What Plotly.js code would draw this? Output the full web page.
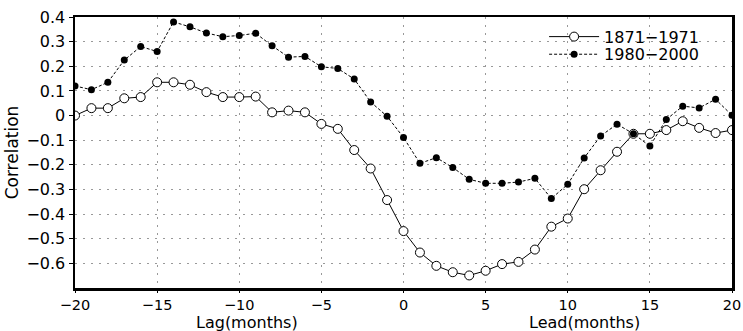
<!DOCTYPE html>
<html>
<head>
<meta charset="utf-8">
<script src="https://cdn.plot.ly/plotly-3.0.1.min.js"></script>
<style>html,body{margin:0;padding:0;background:#fff;}#chart{width:743px;height:331px;}</style>
</head>
<body>
<div id="chart"></div>
<script>
const months = [-20,-19,-18,-17,-16,-15,-14,-13,-12,-11,-10,-9,-8,-7,-6,-5,-4,-3,-2,-1,0,1,2,3,4,5,6,7,8,9,10,11,12,13,14,15,16,17,18,19,20];
const corr1871 = [0.0,0.03,0.03,0.07,0.075,0.135,0.135,0.125,0.095,0.075,0.075,0.077,0.013,0.02,0.013,-0.034,-0.054,-0.14,-0.215,-0.343,-0.469,-0.556,-0.61,-0.636,-0.649,-0.63,-0.603,-0.594,-0.544,-0.451,-0.418,-0.299,-0.222,-0.147,-0.074,-0.074,-0.059,-0.023,-0.05,-0.071,-0.059];
const corr1980 = [0.12,0.105,0.135,0.225,0.28,0.26,0.38,0.36,0.335,0.32,0.325,0.334,0.283,0.237,0.24,0.198,0.191,0.148,0.055,-0.003,-0.089,-0.194,-0.171,-0.211,-0.259,-0.275,-0.275,-0.27,-0.255,-0.337,-0.279,-0.172,-0.083,-0.035,-0.074,-0.124,-0.016,0.038,0.031,0.066,0.001];
const seriesNames = ['1871\u22121971','1980\u22122000'];
const xTickVals = [-20,-15,-10,-5,0,5,10,15,20];
const xTickText = ['\u221220','\u221215','\u221210','\u22125','0','5','10','15','20'];
const yTickVals = [0.4,0.3,0.2,0.1,0,-0.1,-0.2,-0.3,-0.4,-0.5,-0.6];
const yTickText = ['0.4','0.3','0.2','0.1','0','\u22120.1','\u22120.2','\u22120.3','\u22120.4','\u22120.5','\u22120.6'];

const font = 'DejaVu Sans, Liberation Sans, sans-serif';
const traces = [
  {x: months, y: corr1871, name: seriesNames[0], mode: 'lines+markers', type: 'scatter', legend: 'legend',
   line: {color: '#000', width: 1},
   marker: {symbol: 'circle', size: 9, color: '#fff', line: {color: '#000', width: 1}}},
  {x: months, y: corr1980, name: seriesNames[1], mode: 'lines+markers', type: 'scatter', legend: 'legend2',
   line: {color: '#000', width: 1, dash: '3px,2px'},
   marker: {symbol: 'circle', size: 7, color: '#000', line: {color: '#000', width: 0}}}
];
const legendBase = {xanchor: 'left', yanchor: 'top', bgcolor: 'rgba(0,0,0,0)',
  font: {size: 16, family: font}, itemwidth: 50};
const layout = {
  width: 743, height: 331,
  margin: {l: 75, r: 11, t: 17, b: 43},
  paper_bgcolor: '#fff', plot_bgcolor: '#fff',
  font: {family: font, color: '#000', size: 16},
  showlegend: true,
  legend: Object.assign({x: 0.714, y: 0.99}, legendBase),
  legend2: Object.assign({x: 0.714, y: 0.925}, legendBase),
  xaxis: {range: [-20, 20], tickvals: xTickVals, ticktext: xTickText,
          showgrid: true, gridcolor: '#999', griddash: '2px,6px', gridwidth: 1,
          zeroline: false, showline: true, linecolor: '#000', linewidth: 2.5, mirror: true,
          ticks: 'outside', ticklen: 2, tickcolor: '#000', tickfont: {size: 14.5}},
  yaxis: {range: [-0.7, 0.4], tickvals: yTickVals, ticktext: yTickText,
          showgrid: true, gridcolor: '#999', griddash: '2px,6px', gridwidth: 1,
          zeroline: false, showline: true, linecolor: '#000', linewidth: 2.5, mirror: true,
          ticks: 'outside', ticklen: 4, tickcolor: '#000', tickfont: {size: 16},
          title: {text: 'Correlation', font: {size: 17}, standoff: 4}},
  annotations: [
    {x: -9.5, y: 0, xref: 'x', yref: 'paper', yshift: -24, borderpad: 0, text: 'Lag(months)', showarrow: false,
     yanchor: 'top', font: {size: 16}},
    {x: 11, y: 0, xref: 'x', yref: 'paper', yshift: -24, borderpad: 0, text: 'Lead(months)', showarrow: false,
     yanchor: 'top', font: {size: 16}}
  ]
};
Plotly.newPlot('chart', traces, layout, {displayModeBar: false, staticPlot: true});
</script>
</body>
</html>
